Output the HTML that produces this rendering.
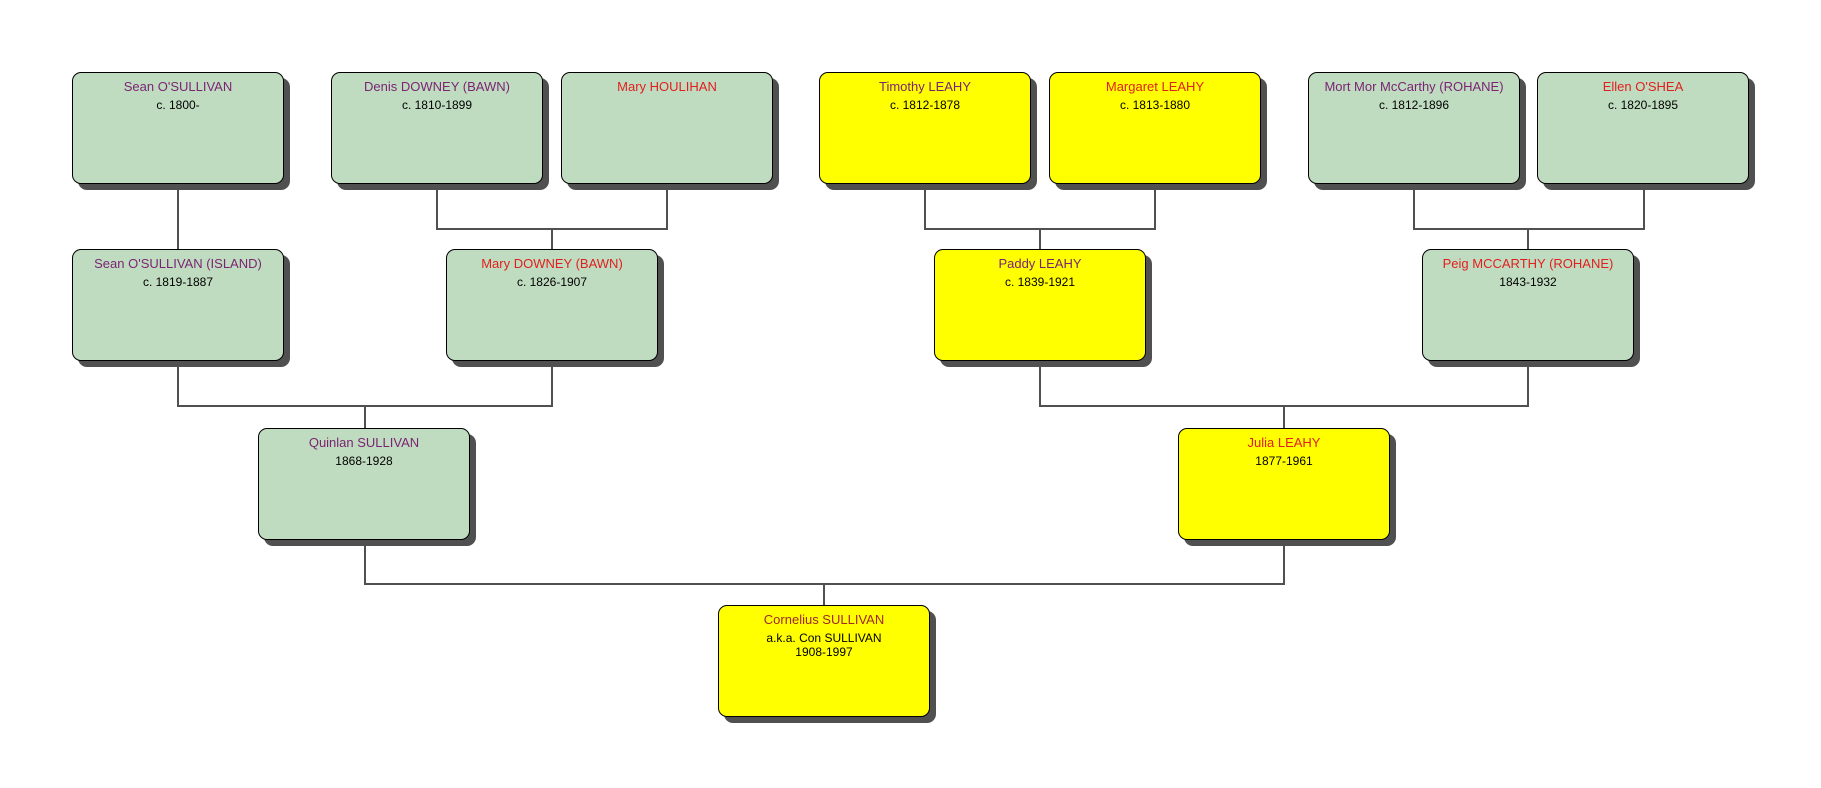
<!DOCTYPE html>
<html><head><meta charset="utf-8"><style>
body{margin:0;width:1821px;height:788px;background:#fff;position:relative;overflow:hidden;font-family:"Liberation Sans",sans-serif}
.b{position:absolute;width:210px;height:110px;border:1px solid #000;border-radius:9px;box-shadow:6px 6px 0 #505050;background:#c0dcc0;text-align:center;box-sizing:content-box}
.y{background:#ffff00}
.n{font-size:13px;margin-top:6px;line-height:16px}
.d{font-size:12px;line-height:14px;margin-top:3px;color:#000}
.p{color:#7b2474}.r{color:#e0201e}.br{color:#a02828}
.l{position:absolute;background:#505050}
</style></head><body>
<!-- connectors -->
<div class="l" style="left:177px;top:184px;width:2px;height:65px"></div>
<div class="l" style="left:436px;top:184px;width:2px;height:45px"></div>
<div class="l" style="left:666px;top:184px;width:2px;height:45px"></div>
<div class="l" style="left:436px;top:228px;width:232px;height:2px"></div>
<div class="l" style="left:551px;top:228px;width:2px;height:21px"></div>
<div class="l" style="left:924px;top:184px;width:2px;height:45px"></div>
<div class="l" style="left:1154px;top:184px;width:2px;height:45px"></div>
<div class="l" style="left:924px;top:228px;width:232px;height:2px"></div>
<div class="l" style="left:1039px;top:228px;width:2px;height:21px"></div>
<div class="l" style="left:1413px;top:184px;width:2px;height:45px"></div>
<div class="l" style="left:1643px;top:184px;width:2px;height:45px"></div>
<div class="l" style="left:1413px;top:228px;width:232px;height:2px"></div>
<div class="l" style="left:1527px;top:228px;width:2px;height:21px"></div>

<div class="l" style="left:177px;top:361px;width:2px;height:45px"></div>
<div class="l" style="left:551px;top:361px;width:2px;height:45px"></div>
<div class="l" style="left:177px;top:405px;width:376px;height:2px"></div>
<div class="l" style="left:364px;top:405px;width:2px;height:23px"></div>
<div class="l" style="left:1039px;top:361px;width:2px;height:45px"></div>
<div class="l" style="left:1527px;top:361px;width:2px;height:45px"></div>
<div class="l" style="left:1039px;top:405px;width:490px;height:2px"></div>
<div class="l" style="left:1283px;top:405px;width:2px;height:23px"></div>

<div class="l" style="left:364px;top:540px;width:2px;height:45px"></div>
<div class="l" style="left:1283px;top:540px;width:2px;height:45px"></div>
<div class="l" style="left:364px;top:583px;width:921px;height:2px"></div>
<div class="l" style="left:823px;top:583px;width:2px;height:22px"></div>

<!-- row1 -->
<div class="b" style="left:72px;top:72px"><div class="n p">Sean O'SULLIVAN</div><div class="d">c. 1800-</div></div>
<div class="b" style="left:331px;top:72px"><div class="n p">Denis DOWNEY (BAWN)</div><div class="d">c. 1810-1899</div></div>
<div class="b" style="left:561px;top:72px"><div class="n r">Mary HOULIHAN</div></div>
<div class="b y" style="left:819px;top:72px"><div class="n p">Timothy LEAHY</div><div class="d">c. 1812-1878</div></div>
<div class="b y" style="left:1049px;top:72px"><div class="n r">Margaret LEAHY</div><div class="d">c. 1813-1880</div></div>
<div class="b" style="left:1308px;top:72px"><div class="n p">Mort Mor McCarthy (ROHANE)</div><div class="d">c. 1812-1896</div></div>
<div class="b" style="left:1537px;top:72px"><div class="n r">Ellen O'SHEA</div><div class="d">c. 1820-1895</div></div>
<!-- row2 -->
<div class="b" style="left:72px;top:249px"><div class="n p">Sean O'SULLIVAN (ISLAND)</div><div class="d">c. 1819-1887</div></div>
<div class="b" style="left:446px;top:249px"><div class="n r">Mary DOWNEY (BAWN)</div><div class="d">c. 1826-1907</div></div>
<div class="b y" style="left:934px;top:249px"><div class="n p">Paddy LEAHY</div><div class="d">c. 1839-1921</div></div>
<div class="b" style="left:1422px;top:249px"><div class="n r">Peig MCCARTHY (ROHANE)</div><div class="d">1843-1932</div></div>
<!-- row3 -->
<div class="b" style="left:258px;top:428px"><div class="n p">Quinlan SULLIVAN</div><div class="d">1868-1928</div></div>
<div class="b y" style="left:1178px;top:428px"><div class="n r">Julia LEAHY</div><div class="d">1877-1961</div></div>
<!-- row4 -->
<div class="b y" style="left:718px;top:605px"><div class="n br">Cornelius SULLIVAN</div><div class="d">a.k.a. Con SULLIVAN<br>1908-1997</div></div>
</body></html>
